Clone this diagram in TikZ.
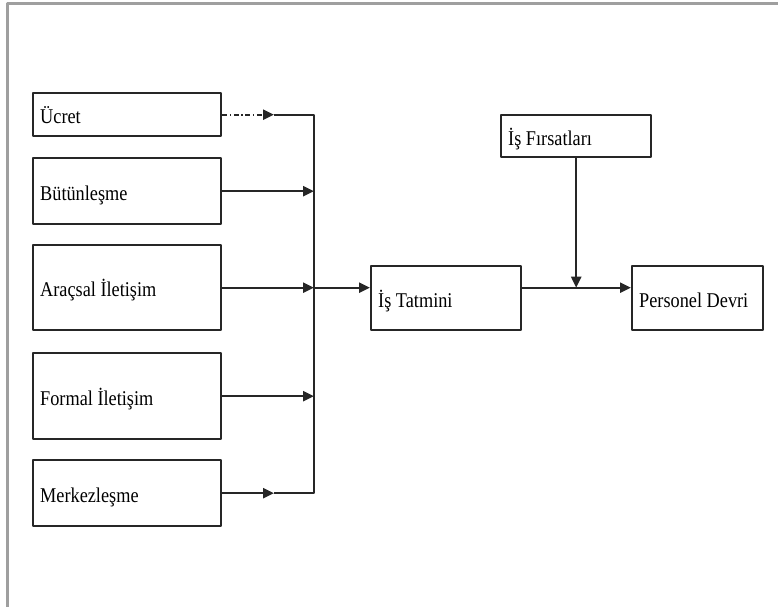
\documentclass[tikz,border=0pt]{standalone}
\usepackage{fontspec}
\setmainfont{Liberation Serif}[FakeStretch=0.87]
\usetikzlibrary{arrows.meta}
\begin{document}
\begin{tikzpicture}[x=1pt, y=-1pt, line join=round, >={Triangle[length=11pt,width=10pt]}]
\tikzset{kutu/.style={draw=black!85, line width=2.4pt, anchor=north west,
    inner xsep=7pt, inner ysep=0pt, text height=18pt, text depth=0pt,
    font=\fontsize{21}{24}\selectfont},
  ok/.style={draw=black!85, line width=2.3pt, ->}}
\def\busx{314} \def\tipx{274}
\useasboundingbox (0,0) rectangle (778,607);
% cerceve
\draw[gray!75, line width=2.4pt] (778,3.5) -| (7.5,607);
% sol kutular
\node[kutu, minimum height=43pt] (ucret) at (32,92) {\makebox[174pt][l]{Ücret}};
\node[kutu, minimum height=66pt] (butun) at (32,157) {\makebox[174pt][l]{Bütünleşme}};
\node[kutu, minimum height=85pt] (aracsal) at (32,244) {\makebox[174pt][l]{Araçsal İletişim}};
\node[kutu, minimum height=86pt] (formal) at (32,352) {\makebox[174pt][l]{Formal İletişim}};
\node[kutu, minimum height=66pt] (merkez) at (32,459) {\makebox[174pt][l]{Merkezleşme}};
% sag kutular
\node[kutu, minimum height=64pt] (tatmin) at (370,265) {\makebox[136pt][l]{İş Tatmini}};
\node[kutu, minimum height=42pt] (firsat) at (500,114) {\makebox[136pt][l]{İş Fırsatları}};
\node[kutu, minimum height=64pt] (devri) at (631,265) {\makebox[117pt][l]{Personel Devri}};
% toplama hatti
\coordinate (u1) at (\tipx,0 |- ucret.east);
\coordinate (m1) at (\tipx,0 |- merkez.east);
\coordinate (bustop) at (\busx,0 |- ucret.east);
\coordinate (busbot) at (\busx,0 |- merkez.east);
\coordinate (busmid) at (\busx,0 |- aracsal.east);
\draw[ok, dash pattern=on 5pt off 2.5pt on 1.5pt off 2.5pt] (ucret.east) -- (u1);
\draw[ok] (merkez.east) -- (m1);
\draw[draw=black!85, line width=2.3pt] (u1) -- (bustop) -- (busbot) -- (m1);
\draw[ok] (butun.east) -- (butun.east -| bustop);
\draw[ok] (aracsal.east) -- (busmid);
\draw[ok] (formal.east) -- (formal.east -| bustop);
\draw[ok] (busmid) -- (tatmin.west |- busmid);
\draw[ok] (tatmin.east |- busmid) -- (devri.west |- busmid);
\draw[ok] (firsat.south) -- (firsat.south |- busmid);
\end{tikzpicture}
\end{document}
